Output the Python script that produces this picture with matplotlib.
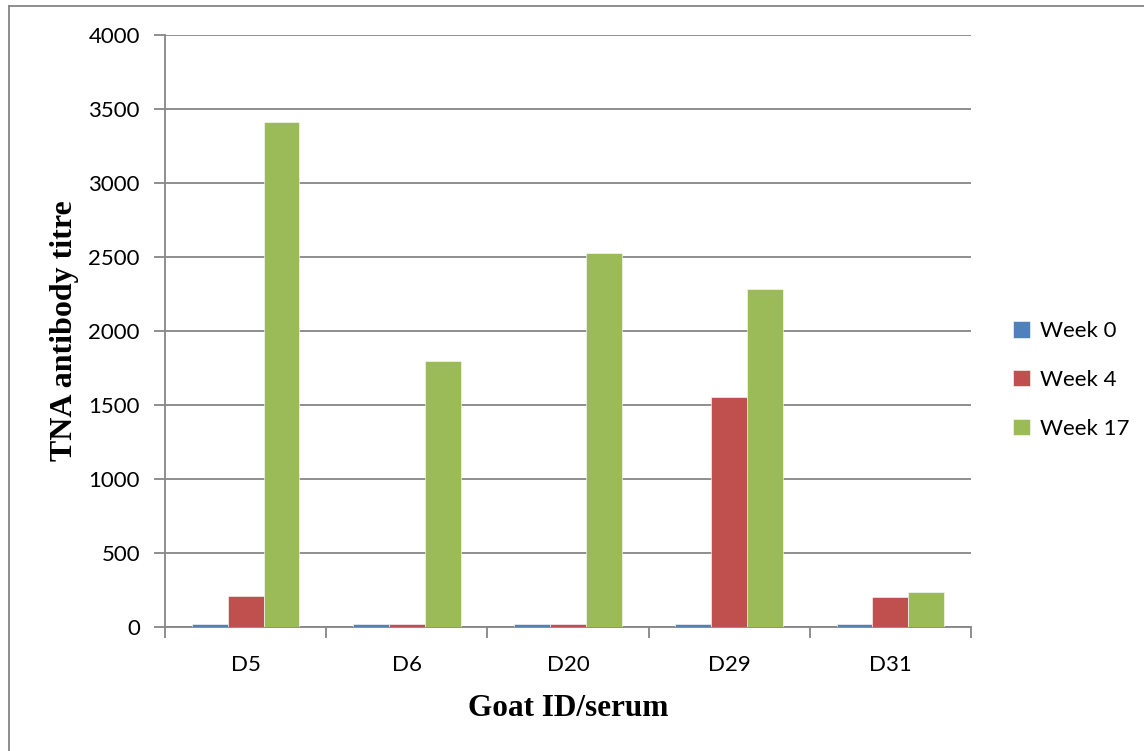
import numpy as np
import matplotlib
matplotlib.use('Agg')
import matplotlib.pyplot as plt
from matplotlib.lines import Line2D

goats = ['D5', 'D6', 'D20', 'D29', 'D31']
series = ['Week 0', 'Week 4', 'Week 17']
week0 = [20, 20, 20, 20, 20]
week4 = [210, 20, 20, 1555, 205]
week17 = [3410, 1800, 2530, 2285, 235]
colors = ['#4F81BD', '#C0504D', '#9BBB59']

W, H = 1144, 751
fig = plt.figure(figsize=(W / 100, H / 100), dpi=100)
ax = fig.add_axes([165 / W, 1 - 627 / H, (971 - 165) / W, (627 - 35) / H])

grey = '#868686'
x = np.arange(len(goats))
bw = 1 / 4.5
for i, (vals, name) in enumerate(zip([week0, week4, week17], series)):
    ax.bar(x + (i - 1) * bw, vals, bw, color=colors[i], label=name,
           edgecolor='white', linewidth=0.4, zorder=3)

ax.set_xlim(-0.5, len(goats) - 0.5)
ax.set_ylim(0, 4000)
ax.set_yticks(range(0, 4001, 500))
ax.yaxis.grid(True, color=grey, linewidth=1.3, zorder=0)
ax.set_axisbelow(True)

# category labels in the middle, tick marks on the boundaries
ax.set_xticks(x)
ax.set_xticklabels(goats)
ax.set_xticks(np.arange(-0.5, len(goats), 1), minor=True)
ax.tick_params(axis='x', which='major', length=0, pad=20)
ax.tick_params(axis='x', which='minor', length=8, width=1.3, color=grey)
ax.tick_params(axis='y', length=8, width=1.3, color=grey, pad=10)

for lab in ax.get_xticklabels() + ax.get_yticklabels():
    lab.set_fontfamily('Lato')
    lab.set_fontsize(16)

for side in ['top', 'right']:
    ax.spines[side].set_visible(False)
for side in ['left', 'bottom']:
    ax.spines[side].set_color(grey)
    ax.spines[side].set_linewidth(1.3)

ax.set_ylabel('TNA antibody titre', fontfamily='Liberation Serif',
              fontweight='bold', fontsize=23, labelpad=7)
ax.set_xlabel('Goat ID/serum', fontfamily='Liberation Serif',
              fontweight='bold', fontsize=22.5, labelpad=14)

leg = fig.legend(loc='center left', bbox_to_anchor=(993 / W, 1 - 380 / H),
                 frameon=False, prop={'family': 'Lato', 'size': 16},
                 handlelength=0.75, handleheight=0.75, handletextpad=0.45,
                 labelspacing=1.3)

# outer chart border (left and top edges)
fig.add_artist(Line2D([8.5 / W, 8.5 / W], [0, 1 - 5.5 / H],
                      transform=fig.transFigure, color=grey, linewidth=1.3))
fig.add_artist(Line2D([8.5 / W, 1], [1 - 5.5 / H, 1 - 5.5 / H],
                      transform=fig.transFigure, color=grey, linewidth=1.3))

fig.savefig('out.png', dpi=100)
